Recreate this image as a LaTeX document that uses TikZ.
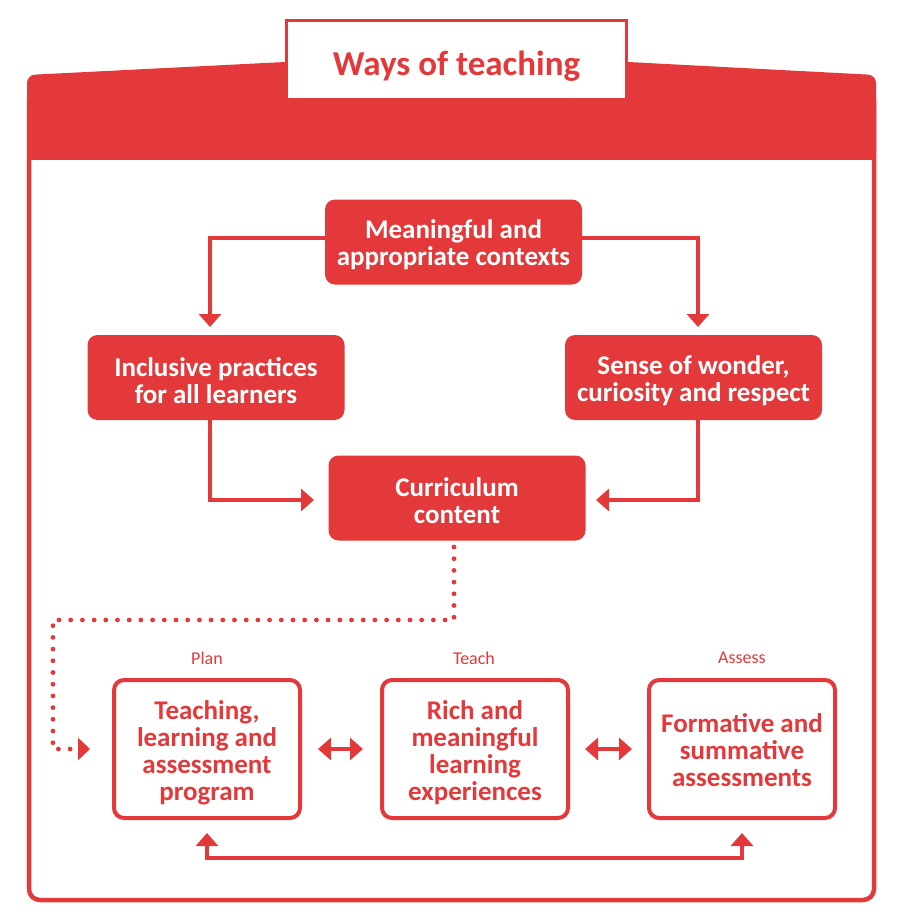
\documentclass[tikz,border=0pt]{standalone}
\usepackage{fontspec}
\setmainfont{Carlito}
\usetikzlibrary{arrows.meta}
\definecolor{myred}{RGB}{227,57,58}
\tikzset{
  fbox/.style={rounded corners=10pt, fill=myred, minimum width=257pt, minimum height=85pt, inner sep=0pt},
  ftext/.style={text=white, font=\bfseries\fontsize{27}{27}\selectfont, align=center, inner sep=0pt},
  obox/.style={rounded corners=10pt, draw=myred, line width=4pt, fill=white, minimum width=186pt, minimum height=138pt, inner sep=0pt},
  otext/.style={text=myred, font=\bfseries\fontsize{27}{27}\selectfont, align=center, inner sep=0pt},
  lbl/.style={text=myred, font=\fontsize{18}{20}\selectfont, inner sep=0pt},
  arr/.style={draw=myred, line width=3.5pt, -{Triangle[length=13pt,width=22pt]}},
  darr/.style={draw=myred, line width=4.5pt, {Triangle[length=13pt,width=22pt]}-{Triangle[length=13pt,width=22pt]}},
  dotline/.style={draw=myred, line width=4.8pt, line cap=round, dash pattern=on 0pt off 11.7pt, -{Triangle[length=12pt,width=22pt,sep=6pt]}},
}
\begin{document}
\begin{tikzpicture}[x=1pt,y=-1pt]
\useasboundingbox (0,0) rectangle (900,920);
% outer frame
\draw[myred, line width=4.5pt, rounded corners=11pt] (29,100) -- (29,900) -- (874,900) -- (874,100);
% header band
\fill[myred, rounded corners=8pt] (27,160) -- (27,75) -- (285,62) [sharp corners] -- (628,62) [rounded corners=8pt] -- (876,75) -- (876,160) [sharp corners] -- cycle;
\fill[myred] (27,120) rectangle (876,160);
% title box
\node[draw=myred, line width=3pt, fill=white, minimum width=340pt, minimum height=79pt, inner sep=0pt] (title) at (456.5,60.5) {};
\node[text=myred, font=\bfseries\fontsize{35}{36}\selectfont, inner sep=0pt] (titlet) at (456.5,66) {Ways of teaching};

\node[fbox] (m) at (453.5,242) {};
\node[ftext] (mt) at ([yshift=-3pt]m.center) {Meaningful and\\appropriate contexts};
\node[fbox] (inc) at (216,377.5) {};
\node[ftext] (inct) at ([yshift=-3pt]inc.center) {Inclusive practices\\for all learners};
\node[fbox] (sen) at (693.5,377.5) {};
\node[ftext] (sent) at ([yshift=-3pt]sen.center) {Sense of wonder,\\curiosity and respect};
\node[fbox] (cur) at (457,498) {};
\node[ftext] (curt) at ([yshift=-3pt]cur.center) {Curriculum\\content};

\coordinate (a1) at (210,327);
\coordinate (a2) at (698,327);
\coordinate (c1) at (314,500);
\coordinate (c2) at (596,500);
\draw[arr] (m.west |- 0,238) -| (a1);
\draw[arr] (m.east |- 0,238) -| (a2);
\draw[arr] (inc.south -| a1) |- (c1);
\draw[arr] (sen.south -| a2) |- (c2);

\node[lbl] (pl) at (207,658) {Plan};
\node[lbl] (te) at (474,658) {Teach};
\node[lbl] (as) at (742,658) {Assess};

\node[obox] (b1) at (207,749) {};
\node[otext] (b1t) at ([yshift=-4pt]b1.center) {Teaching,\\learning and\\assessment\\program};
\node[obox] (b2) at (475,749) {};
\node[otext] (b2t) at ([yshift=-4pt]b2.center) {Rich and\\meaningful\\learning\\experiences};
\node[obox] (b3) at (742,749) {};
\node[otext] (b3t) at ([yshift=-1pt]b3.center) {Formative and\\summative\\assessments};

\coordinate (d0) at (454,547);
\coordinate (d1) at (96,749);
\draw[dotline] (d0) -- (454,620) -- (53,620) -- (53,749) -- (d1);

\draw[darr] ([xshift=16pt]b1.east) -- ([xshift=-17pt]b2.west);
\draw[darr] ([xshift=15pt]b2.east) -- ([xshift=-15pt]b3.west);
\draw[darr] ([yshift=-13pt]b1.south) -- (b1.south |- 0,858) -- (b3.south |- 0,858) -- ([yshift=-13pt]b3.south);
\end{tikzpicture}
\end{document}
